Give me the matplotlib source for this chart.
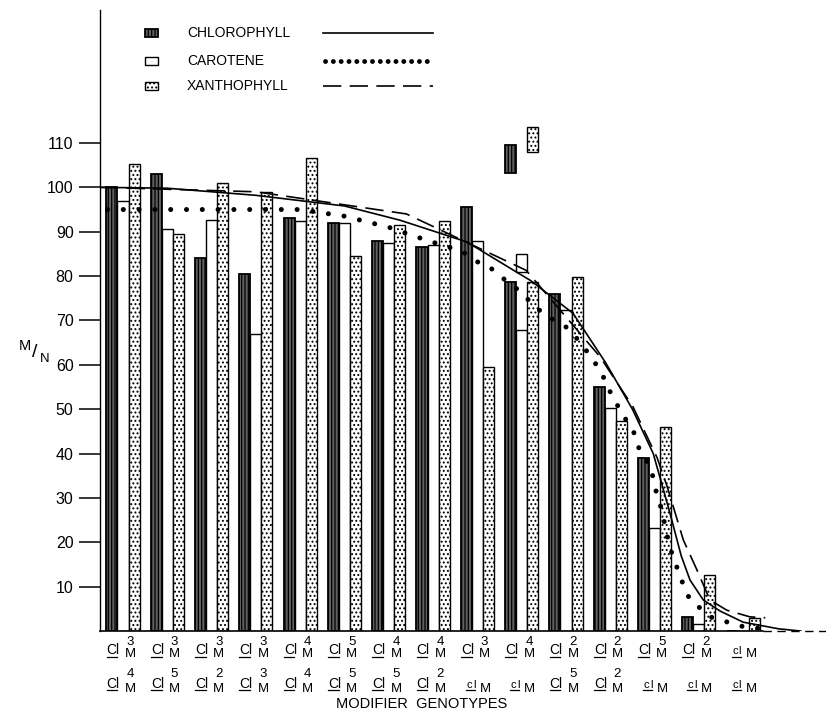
import matplotlib
matplotlib.use('Agg')
import matplotlib.pyplot as plt
from matplotlib.patches import Rectangle
from matplotlib.lines import Line2D
from matplotlib.transforms import blended_transform_factory

plt.rcParams['font.family'] = ['Liberation Sans', 'DejaVu Sans']
plt.rcParams['hatch.linewidth'] = 0.9

# genotype labels (superscript of upper / lower Cl, '' = lower case cl)
top_sup = ['3', '3', '3', '3', '4', '5', '4', '4', '3', '4', '2', '2', '5', '2', '']
bot_sup = ['4', '5', '2', '3', '4', '5', '5', '2', '', '', '5', '2', '', '', '']

# M/N values
chlorophyll = [100, 103, 84, 80.4, 93, 92, 88, 86.5, 95.5, 78.6, 76, 55, 39, 3.2, 0]
carotene = [97, 90.7, 92.6, 67, 92.5, 92, 87.5, 87, 88, 67.8, 72.3, 50.2, 23.2, 1.5, 0]
xanthophyll = [105.2, 89.4, 101, 99, 106.5, 84.5, 91.5, 92.5, 59.4, 78.6, 79.7, 47.3, 46, 12.6, 2.9]

# broken-off pieces above group 10 (bottom, top)
chl_extra = (103.2, 109.5)
car_extra = (81, 85)
xan_extra = (107.9, 113.5)
extra_group = 9

# fitted curves (x in group units)
chl_cx = [-0.52, 1, 3, 5, 6.25, 7.76, 9.2, 10.16, 10.9, 11.5, 11.97, 12.35, 12.6, 12.8, 13.1, 13.48, 14.0, 14.8, 15.3]
chl_cy = [100, 99.8, 98.2, 95.8, 92.6, 87.7, 79, 71.6, 60.4, 50, 40, 26.5, 17, 11.5, 7, 4.5, 2, 0.5, 0]
xan_cx = [-0.52, 3, 6.4, 9.1, 10.77, 11.52, 12.06, 12.29, 12.65, 12.96, 13.25, 13.63, 14.15, 14.5]
xan_cy = [100, 99, 94, 81.3, 61.8, 50.4, 39, 32.4, 20.5, 13.7, 7, 4.7, 3.2, 3]
car_cx = [-0.35, 4, 5, 6, 6.52, 6.97, 7.34, 7.68, 7.98, 8.28, 8.51, 8.85, 9.22, 9.54,
          9.85, 10.08, 10.32, 10.59, 10.81, 11.04, 11.27, 11.54, 11.67, 11.92, 12.02, 12.17,
          12.26, 12.35, 12.51, 12.65, 12.8, 13.3, 14, 14.5]
car_cy = [95, 95, 93.5, 91, 89.2, 87.7, 86.6, 85.4, 83.3, 82, 80, 77.5, 74, 71,
          69.5, 68, 65, 61.5, 58, 53, 49, 44.6, 40.5, 36.7, 32, 27,
          22.5, 18.7, 14.2, 10.4, 7, 3, 1, 0.5]

fig = plt.figure(figsize=(8.26, 7.14), dpi=100)
ax = fig.add_axes([0.121, 0.1162, 0.879, 0.870])

n = len(chlorophyll)
x = list(range(n))
w = 0.25
chl_style = dict(facecolor='#606060', edgecolor='black', hatch='|||||', linewidth=1.3)
car_style = dict(facecolor='white', edgecolor='black', linewidth=1.0)
xan_style = dict(facecolor='white', edgecolor='black', hatch='....', linewidth=1.0)

ax.bar([i - w for i in x], chlorophyll, w, **chl_style)
ax.bar(x, carotene, w, **car_style)
ax.bar([i + w for i in x], xanthophyll, w, **xan_style)

ax.bar(extra_group - w, chl_extra[1] - chl_extra[0], w, bottom=chl_extra[0], **chl_style)
ax.bar(extra_group, car_extra[1] - car_extra[0], w, bottom=car_extra[0], **car_style)
ax.bar(extra_group + w, xan_extra[1] - xan_extra[0], w, bottom=xan_extra[0], **xan_style)

ax.plot(chl_cx, chl_cy, color='black', lw=1.2, zorder=5)
ax.plot(xan_cx, xan_cy, color='black', lw=1.2, dashes=(11, 5), zorder=5)
ax.plot(car_cx, car_cy, color='black', lw=3.6, linestyle=(0, (0.01, 3.15)),
        dash_capstyle='round', zorder=5)

ax.set_xlim(-0.52, 15.87)
ax.set_ylim(0, 140)
ax.spines['top'].set_visible(False)
ax.spines['right'].set_visible(False)
ax.spines['left'].set_bounds(0, 140)
ax.spines['bottom'].set_bounds(-0.52, 14.45)
ax.spines['left'].set_linewidth(1.0)
ax.spines['bottom'].set_linewidth(1.2)
ax.plot([14.45, 15.87], [0, 0], color='black', lw=1.0, dashes=(6, 4), clip_on=False)

ax.set_yticks(range(10, 120, 10))
ax.set_yticklabels(['10', '20', '30', '40', '50', '60', '70', '80', '90', '100', '110'])
ax.tick_params(axis='y', direction='out', length=15, width=1.1, pad=4, labelsize=11.5)
ax.set_xticks([])

# genotype labels
tr = blended_transform_factory(ax.transData, fig.transFigure)
rows = [(top_sup, 0.0840, 0.0966, 0.0798, 0.0805), (bot_sup, 0.0364, 0.0518, 0.0308, 0.0330)]
for sups, yb, ys, ym, yu in rows:
    for i, s in enumerate(sups):
        if s:
            ax.text(i - 0.37, yb, 'Cl', transform=tr, fontsize=10, ha='left', va='baseline')
            ax.text(i + 0.08, ys, s, transform=tr, fontsize=9.5, ha='left', va='baseline')
            ax.text(i + 0.04, ym, 'M', transform=tr, fontsize=9.5, ha='left', va='baseline')
            ax.add_line(Line2D([i - 0.37, i - 0.13], [yu, yu], transform=tr, color='black',
                               lw=0.9, clip_on=False))
        else:
            ax.text(i - 0.25, yb, 'c', transform=tr, fontsize=8, ha='left', va='baseline')
            ax.text(i - 0.10, yb, 'l', transform=tr, fontsize=8, ha='left', va='baseline')
            ax.text(i + 0.05, ym, 'M', transform=tr, fontsize=9.5, ha='left', va='baseline')
            ax.add_line(Line2D([i - 0.26, i - 0.05], [yu, yu], transform=tr, color='black',
                               lw=0.9, clip_on=False))

fig.text(0.51, 0.0084, 'MODIFIER  GENOTYPES', fontsize=10.5, ha='center', va='baseline')

# M/N label
fig.text(0.030, 0.515, 'M', fontsize=10.5, ha='center', va='center')
fig.text(0.042, 0.507, '/', fontsize=14, ha='center', va='center')
fig.text(0.054, 0.497, 'N', fontsize=9.5, ha='center', va='center')

# legend
leg_y = [1 - 33 / 714, 1 - 61 / 714, 1 - 85.5 / 714]
leg_names = ['CHLOROPHYLL', 'CAROTENE', 'XANTHOPHYLL']
leg_styles = [chl_style, car_style, xan_style]
for yy, name, st in zip(leg_y, leg_names, leg_styles):
    fig.add_artist(Rectangle((145 / 826, yy - 4 / 714), 13 / 826, 8 / 714,
                             transform=fig.transFigure, **st))
    fig.text(187 / 826, yy, name, fontsize=10, ha='left', va='center')
fig.add_artist(Line2D([323 / 826, 433 / 826], [leg_y[0], leg_y[0]], color='black', lw=1.2))
fig.add_artist(Line2D([325 / 826, 433 / 826], [leg_y[1], leg_y[1]], color='black', lw=3.5,
                      linestyle=(0, (0.01, 1.6)), dash_capstyle='round'))
fig.add_artist(Line2D([323 / 826, 433 / 826], [leg_y[2], leg_y[2]], color='black', lw=1.2,
                      dashes=(11, 5)))

fig.savefig('out.png', dpi=100)
